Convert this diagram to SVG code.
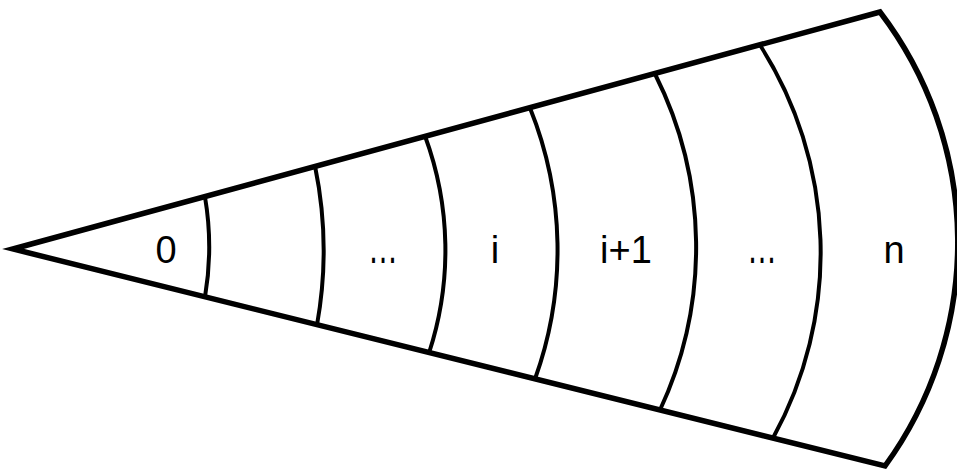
<svg xmlns="http://www.w3.org/2000/svg" width="957" height="472" viewBox="0 0 957 472">
  <style>
    .outline { fill: none; stroke: #000; stroke-width: 5.5; stroke-linejoin: miter; }
    .divider { fill: none; stroke: #000; stroke-width: 4; }
    .label { font-family: "Liberation Sans", Arial, sans-serif; font-size: 38px; fill: #000; text-anchor: middle; }
    .dots { font-size: 48px; }
  </style>
  <rect width="957" height="472" fill="#fff"/>
  <g id="sector">
    <path class="outline" d="M880,12 L13,249 L885,466 A380,380 0 0 0 880,12 Z"/>
  </g>
  <g id="dividers">
    <path class="divider" d="M205,197 A300,300 0 0 1 205,297"/>
    <path class="divider" d="M315,166 A420,420 0 0 1 317,325"/>
    <path class="divider" d="M425,136 A330,330 0 0 1 429,353"/>
    <path class="divider" d="M530,108 A380,380 0 0 1 535,379"/>
    <path class="divider" d="M655,74 A385,385 0 0 1 660,410"/>
    <path class="divider" d="M760,45 A385,385 0 0 1 773,438"/>
  </g>
  <g id="cell-0"><text class="label" x="166" y="263">0</text></g>
  <g id="cell-dots-1"><text class="label dots" x="383" y="263" textLength="30" lengthAdjust="spacingAndGlyphs">…</text></g>
  <g id="cell-i"><text class="label" x="495" y="263">i</text></g>
  <g id="cell-i1"><text class="label" x="626" y="263">i+1</text></g>
  <g id="cell-dots-2"><text class="label dots" x="762" y="263" textLength="30" lengthAdjust="spacingAndGlyphs">…</text></g>
  <g id="cell-n"><text class="label" x="894" y="263">n</text></g>
</svg>
